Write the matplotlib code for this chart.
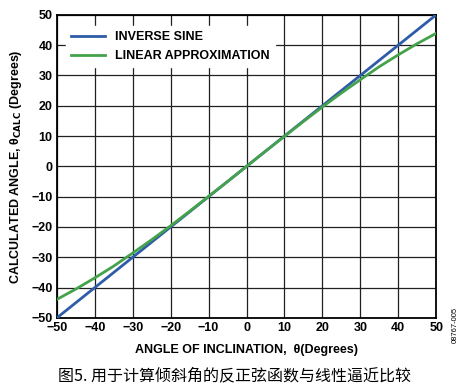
import matplotlib
matplotlib.use('Agg')
import matplotlib.pyplot as plt
import numpy as np

# 横軸: 傾斜角 (度)
angle = [-50, -45, -40, -35, -30, -25, -20, -15, -10, -5, 0, 5, 10, 15, 20, 25, 30, 35, 40, 45, 50]
# 逆正弦 (実際の角度)
inverse_sine = [-50, -45, -40, -35, -30, -25, -20, -15, -10, -5, 0, 5, 10, 15, 20, 25, 30, 35, 40, 45, 50]
# 線形近似
linear_approx = [-43.9, -40.5, -36.8, -32.9, -28.6, -24.2, -19.6, -14.8, -9.9, -5.0, 0,
                 5.0, 9.9, 14.8, 19.6, 24.2, 28.6, 32.9, 36.8, 40.5, 43.9]
ticks = [-50, -40, -30, -20, -10, 0, 10, 20, 30, 40, 50]
tick_labels = ['\u221250', '\u221240', '\u221230', '\u221220', '\u221210', '0',
               '10', '20', '30', '40', '50']

plt.rcParams['font.family'] = ['Liberation Sans', 'DejaVu Sans']

fig = plt.figure(figsize=(4.7, 3.91), dpi=100)
ax = fig.add_axes([0.121, 0.187, 0.807, 0.775])

ax.plot(angle, inverse_sine, color='#2f5ca8', lw=2.0, label='INVERSE SINE', zorder=3)
ax.plot(angle, linear_approx, color='#44a24a', lw=2.0, label='LINEAR APPROXIMATION', zorder=4)

ax.set_xlim(-50, 50)
ax.set_ylim(-50, 50)
ax.set_xticks(ticks)
ax.set_yticks(ticks)
ax.set_xticklabels(tick_labels, fontweight='bold', fontsize=9)
ax.set_yticklabels(tick_labels, fontweight='bold', fontsize=9)
ax.tick_params(length=0, pad=3)
ax.grid(True, color='#202020', lw=0.9, zorder=1)
for s in ax.spines.values():
    s.set_linewidth(1.3)
    s.set_color('black')

ax.set_xlabel('ANGLE OF INCLINATION,  \u03b8(Degrees)', fontweight='bold', fontsize=9, labelpad=7)
ax.set_ylabel('CALCULATED ANGLE, \u03b8$_{\\mathbf{CALC}}$ (Degrees)', fontweight='bold', fontsize=9, labelpad=5)

leg = ax.legend(loc='upper left', bbox_to_anchor=(0.015, 0.975), frameon=True, fancybox=False,
                prop={'weight': 'bold', 'size': 9}, handlelength=2.7, borderaxespad=0.3,
                labelspacing=0.55, handletextpad=0.8)
leg.get_frame().set_facecolor('white')
leg.get_frame().set_edgecolor('white')
leg.get_frame().set_alpha(1)
leg.set_zorder(5)

fig.text(0.968, 0.17, '08767-005', rotation=90, fontsize=5.5, ha='center', va='center')
fig.text(0.5, 0.04, '图5. 用于计算倾斜角的反正弦函数与线性逼近比较',
         family=['Noto Sans CJK SC', 'DejaVu Sans'], fontsize=11.5, ha='center', va='center')

fig.savefig('out.png', dpi=100)
